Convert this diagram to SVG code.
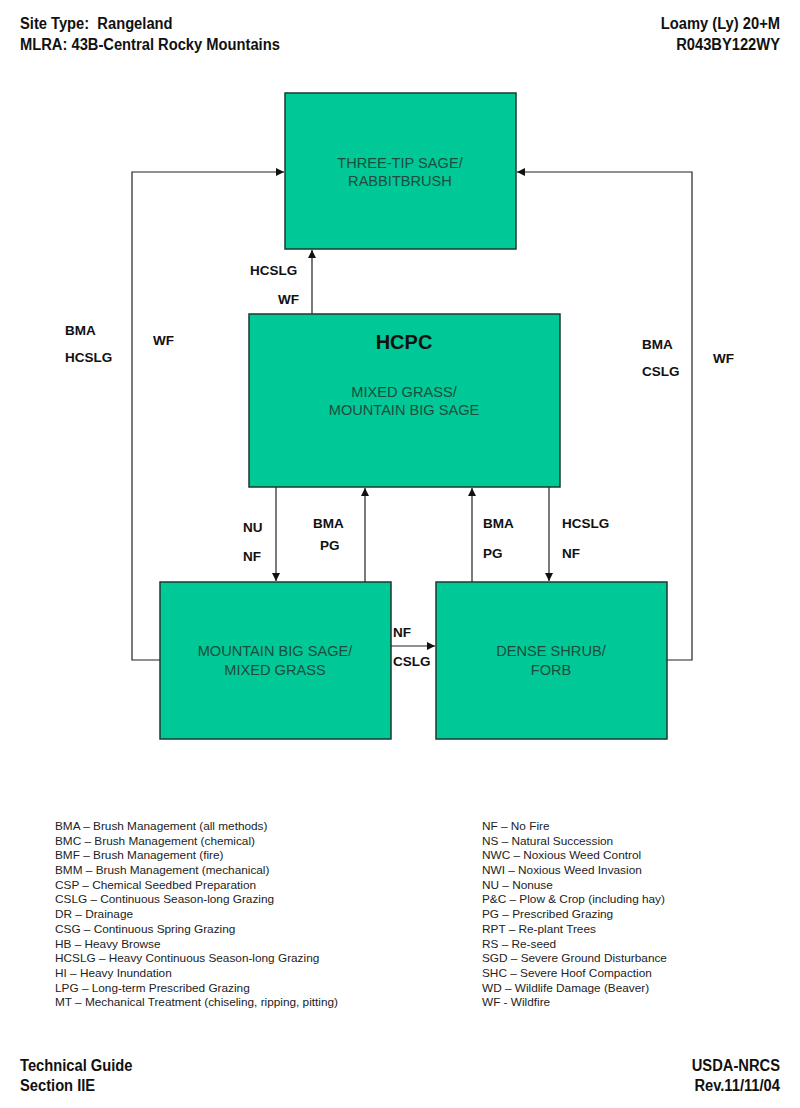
<svg xmlns="http://www.w3.org/2000/svg" width="800" height="1108" viewBox="0 0 800 1108">
<defs>
<marker id="ah" viewBox="0 0 10 10" refX="10" refY="5" markerWidth="8" markerHeight="8" markerUnits="userSpaceOnUse" orient="auto"><path d="M0,0 L10,5 L0,10 z" fill="#111"/></marker>
</defs>
<style>
.hdr{font-family:"Liberation Sans",Arial,sans-serif;font-weight:bold;font-size:16px;fill:#111;white-space:pre}
.box{fill:#00c896;stroke:#1a3a30;stroke-width:1.5}
.bt{font-family:"Liberation Sans",Arial,sans-serif;font-size:14.6px;fill:#1e4d3e;text-anchor:middle}
.lbl{font-family:"Liberation Sans",Arial,sans-serif;font-weight:bold;font-size:13.5px;fill:#111}
.leg{font-family:"Liberation Sans",Arial,sans-serif;font-size:11.8px;fill:#222}
.con{fill:none;stroke:#222;stroke-width:1.2}
</style>
<rect width="800" height="1108" fill="#fff"/>
<g id="header">
<text class="hdr" x="20" y="29" transform="translate(20 0) scale(0.92 1) translate(-20 0)">Site Type:  Rangeland</text>
<text class="hdr" x="20" y="50" transform="translate(20 0) scale(0.92 1) translate(-20 0)">MLRA: 43B-Central Rocky Mountains</text>
<text class="hdr" x="780" y="29" text-anchor="end" transform="translate(780 0) scale(0.92 1) translate(-780 0)">Loamy (Ly) 20+M</text>
<text class="hdr" x="780" y="50" text-anchor="end" transform="translate(780 0) scale(0.92 1) translate(-780 0)">R043BY122WY</text>
</g>
<g id="connectors">
<path class="con" d="M312,314 V250" marker-end="url(#ah)"/>
<path class="con" d="M160,660 H132 V172 H284" marker-end="url(#ah)"/>
<path class="con" d="M667,660 H692 V172 H517" marker-end="url(#ah)"/>
<path class="con" d="M276,487 V581" marker-end="url(#ah)"/>
<path class="con" d="M365,582 V488" marker-end="url(#ah)"/>
<path class="con" d="M472,582 V488" marker-end="url(#ah)"/>
<path class="con" d="M549,487 V581" marker-end="url(#ah)"/>
<path class="con" d="M391,646 H435" marker-end="url(#ah)"/>
<text class="lbl" x="250" y="275">HCSLG</text>
<text class="lbl" x="278" y="304">WF</text>
<text class="lbl" x="65" y="335">BMA</text>
<text class="lbl" x="65" y="362">HCSLG</text>
<text class="lbl" x="153" y="345">WF</text>
<text class="lbl" x="642" y="349">BMA</text>
<text class="lbl" x="642" y="376">CSLG</text>
<text class="lbl" x="713" y="363">WF</text>
<text class="lbl" x="243" y="532">NU</text>
<text class="lbl" x="243" y="561">NF</text>
<text class="lbl" x="313" y="528">BMA</text>
<text class="lbl" x="320" y="550">PG</text>
<text class="lbl" x="483" y="528">BMA</text>
<text class="lbl" x="483" y="558">PG</text>
<text class="lbl" x="562" y="528">HCSLG</text>
<text class="lbl" x="562" y="558">NF</text>
<text class="lbl" x="393" y="637">NF</text>
<text class="lbl" x="393" y="666">CSLG</text>
</g>
<g id="three-tip">
<rect class="box" x="285" y="93" width="231" height="156"/>
<text class="bt" x="400" y="168">THREE-TIP SAGE/</text>
<text class="bt" x="400" y="186">RABBITBRUSH</text>
</g>
<g id="hcpc">
<rect class="box" x="249" y="314" width="311" height="173"/>
<text x="404" y="349" text-anchor="middle" style="font-family:'Liberation Sans',Arial,sans-serif;font-weight:bold;font-size:20px;fill:#111">HCPC</text>
<text class="bt" x="404" y="397">MIXED GRASS/</text>
<text class="bt" x="404" y="415">MOUNTAIN BIG SAGE</text>
</g>
<g id="mbs-mixed">
<rect class="box" x="160" y="582" width="231" height="157"/>
<text class="bt" x="275" y="656">MOUNTAIN BIG SAGE/</text>
<text class="bt" x="275" y="675">MIXED GRASS</text>
</g>
<g id="dense-shrub">
<rect class="box" x="436" y="582" width="231" height="157"/>
<text class="bt" x="551" y="656">DENSE SHRUB/</text>
<text class="bt" x="551" y="675">FORB</text>
</g>
<g id="legend">
<text class="leg" x="55" y="830">BMA – Brush Management (all methods)</text>
<text class="leg" x="55" y="845">BMC – Brush Management (chemical)</text>
<text class="leg" x="55" y="859">BMF – Brush Management (fire)</text>
<text class="leg" x="55" y="874">BMM – Brush Management (mechanical)</text>
<text class="leg" x="55" y="889">CSP – Chemical Seedbed Preparation</text>
<text class="leg" x="55" y="903">CSLG – Continuous Season-long Grazing</text>
<text class="leg" x="55" y="918">DR – Drainage</text>
<text class="leg" x="55" y="933">CSG – Continuous Spring Grazing</text>
<text class="leg" x="55" y="948">HB – Heavy Browse</text>
<text class="leg" x="55" y="962">HCSLG – Heavy Continuous Season-long Grazing</text>
<text class="leg" x="55" y="977">HI – Heavy Inundation</text>
<text class="leg" x="55" y="992">LPG – Long-term Prescribed Grazing</text>
<text class="leg" x="55" y="1006">MT – Mechanical Treatment (chiseling, ripping, pitting)</text>
<text class="leg" x="482" y="830">NF – No Fire</text>
<text class="leg" x="482" y="845">NS – Natural Succession</text>
<text class="leg" x="482" y="859">NWC – Noxious Weed Control</text>
<text class="leg" x="482" y="874">NWI – Noxious Weed Invasion</text>
<text class="leg" x="482" y="889">NU – Nonuse</text>
<text class="leg" x="482" y="903">P&amp;C – Plow &amp; Crop (including hay)</text>
<text class="leg" x="482" y="918">PG – Prescribed Grazing</text>
<text class="leg" x="482" y="933">RPT – Re-plant Trees</text>
<text class="leg" x="482" y="948">RS – Re-seed</text>
<text class="leg" x="482" y="962">SGD – Severe Ground Disturbance</text>
<text class="leg" x="482" y="977">SHC – Severe Hoof Compaction</text>
<text class="leg" x="482" y="992">WD – Wildlife Damage (Beaver)</text>
<text class="leg" x="482" y="1006">WF - Wildfire</text>
</g>
<g id="footer">
<text class="hdr" x="20" y="1071" transform="translate(20 0) scale(0.92 1) translate(-20 0)">Technical Guide</text>
<text class="hdr" x="20" y="1091" transform="translate(20 0) scale(0.92 1) translate(-20 0)">Section IIE</text>
<text class="hdr" x="780" y="1071" text-anchor="end" transform="translate(780 0) scale(0.92 1) translate(-780 0)">USDA-NRCS</text>
<text class="hdr" x="780" y="1091" text-anchor="end" transform="translate(780 0) scale(0.92 1) translate(-780 0)">Rev.11/11/04</text>
</g>
</svg>
